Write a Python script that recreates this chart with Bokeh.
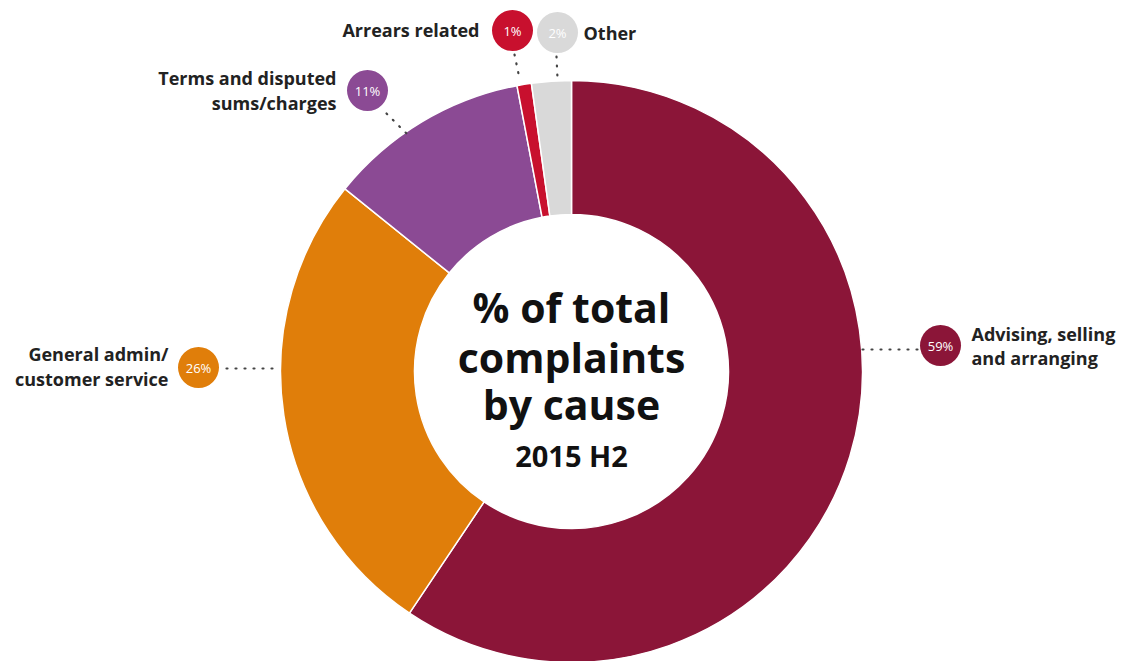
import numpy as np
from bokeh.plotting import figure
from bokeh.models import Range1d
from bokeh.core.properties import value
from bokeh.embed import file_html
from bokeh.resources import INLINE

# ---- data ----
causes = ["Advising, selling and arranging", "General admin/customer service",
          "Terms and disputed sums/charges", "Arrears related", "Other"]
shares = [59.4, 26.4, 11.2, 0.8, 2.2]
pct_labels = ["59%", "26%", "11%", "1%", "2%"]
label_lines = [["Advising, selling", "and arranging"],
               ["General admin/", "customer service"],
               ["Terms and disputed", "sums/charges"],
               ["Arrears related"],
               ["Other"]]
colors = ["#8B1538", "#E07E0A", "#8B4A94", "#C8102E", "#D9D9D9"]
title_lines = ["% of total", "complaints", "by cause"]
subtitle = "2015 H2"

W, H = 1140, 661
FONT = "Open Sans"

def Y(py):
    return H - py

p = figure(width=W, height=H, output_backend="svg", toolbar_location=None,
           x_range=Range1d(0, W), y_range=Range1d(0, H), min_border=0)
p.axis.visible = False
p.grid.visible = False
p.outline_line_color = None
p.background_fill_color = "white"
p.border_fill_color = "white"

cx, cy = 571, Y(371)
r_out, r_in = 291, 157

frac = np.array(shares) / np.sum(shares)
cum = np.concatenate([[0], np.cumsum(frac)])
starts = np.pi / 2 - 2 * np.pi * cum[:-1]
ends = np.pi / 2 - 2 * np.pi * cum[1:]

p.annular_wedge(x=[cx] * len(shares), y=[cy] * len(shares), inner_radius=r_in, outer_radius=r_out,
                start_angle=list(starts), end_angle=list(ends), direction="clock",
                fill_color=colors, line_color="white", line_width=1.5)

# center text
p.text(x=[cx] * 3, y=[Y(306), Y(356), Y(403)], text=title_lines,
       text_font=value(FONT), text_font_style="bold", text_font_size="41px",
       text_align="center", text_baseline="middle", text_color="#111111")
p.text(x=[cx], y=[Y(455)], text=[subtitle],
       text_font=value(FONT), text_font_style="bold", text_font_size="29px",
       text_align="center", text_baseline="middle", text_color="#111111")

# label layout (pixel placement)
bubbles = [(940, 345), (198, 367), (367, 90), (512, 30), (557, 32)]
dots = [((862, 349), (918, 349)), ((226, 368), (276, 368)), ((386, 113), (407, 134)),
        ((514, 54), (519, 78)), ((556, 56), (557, 78))]
text_pos = [(971, [333, 357], "left"), (168, [353, 378], "right"), (336, [77, 102], "right"),
            (479, [29], "right"), (583, [32], "left")]

for (a, b) in dots:
    p.segment(x0=[a[0]], y0=[Y(a[1])], x1=[b[0]], y1=[Y(b[1])], line_color="#444444",
              line_width=2.2, line_dash="1 8", line_cap="round")

p.scatter(x=[b[0] for b in bubbles], y=[Y(b[1]) for b in bubbles], size=41,
          fill_color=colors, line_color=None)
p.text(x=[b[0] for b in bubbles], y=[Y(b[1]) for b in bubbles], text=pct_labels,
       text_font=value(FONT), text_font_size="13px",
       text_align="center", text_baseline="middle", text_color="white")

for (tx, tys, al), lines in zip(text_pos, label_lines):
    p.text(x=[tx] * len(lines), y=[Y(t) for t in tys], text=lines,
           text_font=value(FONT), text_font_style="bold", text_font_size="18px",
           text_align=al, text_baseline="middle", text_color="#222222")

open("out.html", "w").write(file_html(p, INLINE))
